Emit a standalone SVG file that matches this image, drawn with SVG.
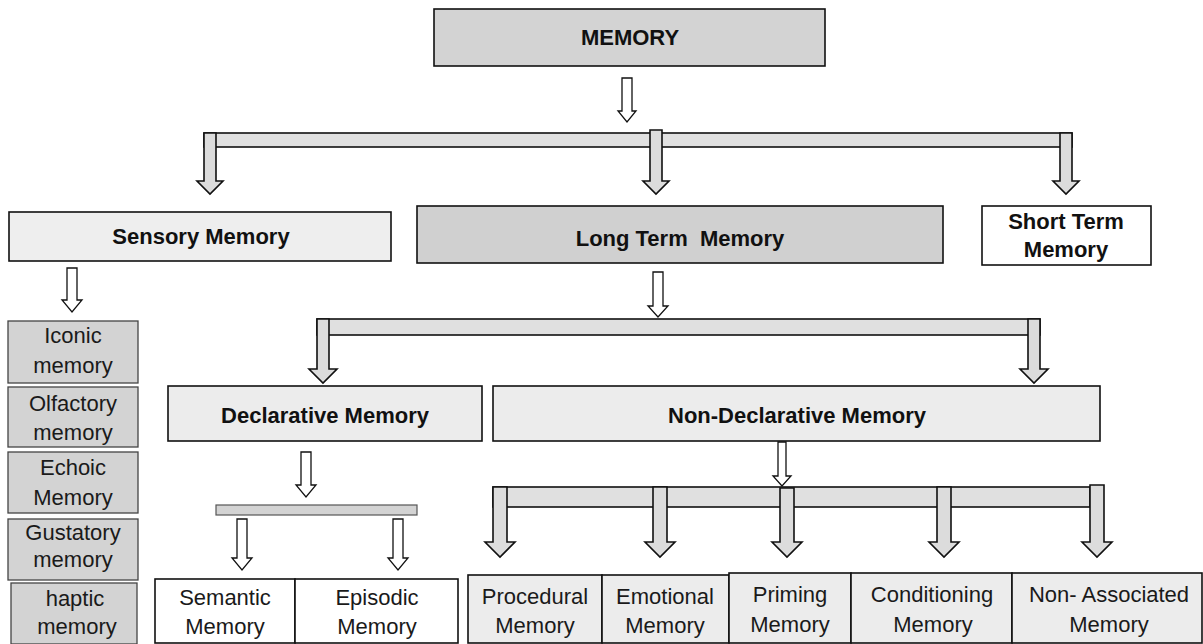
<svg xmlns="http://www.w3.org/2000/svg" width="1203" height="644" viewBox="0 0 1203 644">
<style>
.b{font-family:"Liberation Sans",Arial,sans-serif;font-weight:bold;font-size:22px;fill:#111;text-anchor:middle}
.r{font-family:"Liberation Sans",Arial,sans-serif;font-size:22px;fill:#1a1a1a;text-anchor:middle}
.box{stroke:#111;stroke-width:1.6}
.sbox{fill:#d3d3d3;stroke:#444;stroke-width:1.3}
.ha{fill:#fff;stroke:#111;stroke-width:1.3}
.ga{fill:#dcdcdc;stroke:#111;stroke-width:1.6}
.bar{fill:#e0e0e0;stroke:#111;stroke-width:1.6}
</style>
<rect width="1203" height="644" fill="#fff"/>
<g id="connectors">
<polygon class="ha" points="622,78 632,78 632,111 636,111 627,122 618,111 622,111"/>
<rect class="bar" x="204" y="133" width="868" height="14"/>
<polygon class="ga" points="204,133 216,133 216,181 223,181 210,194 197,181 204,181"/>
<polygon class="ga" points="650,130 662,130 662,181 669,181 656,194 643,181 650,181"/>
<polygon class="ga" points="1060,133 1072,133 1072,181 1079,181 1066,194 1053,181 1060,181"/>
<polygon class="ha" points="67,268 77,268 77,300 82,300 72,312 62,300 67,300"/>
<polygon class="ha" points="653,272 663,272 663,306 668,306 658,317 648,306 653,306"/>
<rect class="bar" x="317" y="319" width="723" height="16"/>
<polygon class="ga" points="317,319 329,319 329,369 337,369 323,383 309,369 317,369"/>
<polygon class="ga" points="1028,319 1040,319 1040,369 1048,369 1034,383 1020,369 1028,369"/>
<polygon class="ha" points="301,452 311,452 311,485 316,485 306,497 296,485 301,485"/>
<rect x="216" y="505" width="201" height="10" fill="#d3d3d3" stroke="#555" stroke-width="1.2"/>
<polygon class="ha" points="237,519 247,519 247,558 252,558 242,570 232,558 237,558"/>
<polygon class="ha" points="393,519 403,519 403,558 408,558 398,570 388,558 393,558"/>
<polygon class="ha" points="778,442 786,442 786,476 791,476 782,486 773,476 778,476"/>
<rect class="bar" x="493" y="487" width="597" height="20"/>
<polygon class="ga" points="493,487 507,487 507,542 515,542 500,557 485,542 493,542"/>
<polygon class="ga" points="653,487 667,487 667,542 675,542 660,557 645,542 653,542"/>
<polygon class="ga" points="780,488 794,488 794,542 802,542 787,557 772,542 780,542"/>
<polygon class="ga" points="937,487 951,487 951,542 959,542 944,557 929,542 937,542"/>
<polygon class="ga" points="1090,485 1104,485 1104,542 1112,542 1097,557 1082,542 1090,542"/>
</g>
<g id="memory"><rect class="box" x="434" y="9" width="391" height="57" fill="#d3d3d3"/><text class="b" x="630" y="45">MEMORY</text></g>
<g id="sensory"><rect class="box" x="9" y="212" width="382" height="49" fill="#eeeeee"/><text class="b" x="201" y="244">Sensory Memory</text></g>
<g id="longterm"><rect class="box" x="417" y="206" width="526" height="57" fill="#d0d0d0"/><text class="b" x="680" y="246" xml:space="preserve">Long Term  Memory</text></g>
<g id="shortterm"><rect class="box" x="982" y="206" width="169" height="59" fill="#fff"/><text class="b" x="1066" y="229">Short Term</text><text class="b" x="1066" y="257">Memory</text></g>
<g id="iconic"><rect class="sbox" x="8" y="321" width="130" height="62"/><text class="r" x="73" y="343">Iconic</text><text class="r" x="73" y="373">memory</text></g>
<g id="olfactory"><rect class="sbox" x="8" y="387" width="130" height="60"/><text class="r" x="73" y="411">Olfactory</text><text class="r" x="73" y="440">memory</text></g>
<g id="echoic"><rect class="sbox" x="8" y="452" width="130" height="61"/><text class="r" x="73" y="475">Echoic</text><text class="r" x="73" y="505">Memory</text></g>
<g id="gustatory"><rect class="sbox" x="8" y="519" width="130" height="61"/><text class="r" x="73" y="540">Gustatory</text><text class="r" x="73" y="567">memory</text></g>
<g id="haptic"><rect class="sbox" x="11" y="583" width="126" height="61"/><text class="r" x="75" y="606">haptic</text><text class="r" x="77" y="634">memory</text></g>
<g id="declarative"><rect class="box" x="168" y="386" width="314" height="55" fill="#ececec"/><text class="b" x="325" y="423">Declarative Memory</text></g>
<g id="nondeclarative"><rect class="box" x="493" y="386" width="607" height="55" fill="#ececec"/><text class="b" x="797" y="423">Non-Declarative Memory</text></g>
<g id="semantic"><rect class="box" x="155" y="579" width="140" height="64" fill="#fff"/><text class="r" x="225" y="605">Semantic</text><text class="r" x="225" y="634">Memory</text></g>
<g id="episodic"><rect class="box" x="295" y="579" width="163" height="64" fill="#fff"/><text class="r" x="377" y="605">Episodic</text><text class="r" x="377" y="634">Memory</text></g>
<g id="procedural"><rect class="box" x="468" y="575" width="134" height="68" fill="#ececec"/><text class="r" x="535" y="604">Procedural</text><text class="r" x="535" y="633">Memory</text></g>
<g id="emotional"><rect class="box" x="602" y="575" width="127" height="68" fill="#ececec"/><text class="r" x="665" y="604">Emotional</text><text class="r" x="665" y="633">Memory</text></g>
<g id="priming"><rect class="box" x="729" y="573" width="122" height="70" fill="#ececec"/><text class="r" x="790" y="602">Priming</text><text class="r" x="790" y="632">Memory</text></g>
<g id="conditioning"><rect class="box" x="851" y="573" width="161" height="70" fill="#ececec"/><text class="r" x="932" y="602">Conditioning</text><text class="r" x="933" y="632">Memory</text></g>
<g id="nonassociated"><rect class="box" x="1012" y="573" width="190" height="70" fill="#ececec"/><text class="r" x="1109" y="602">Non- Associated</text><text class="r" x="1109" y="632">Memory</text></g>
</svg>
